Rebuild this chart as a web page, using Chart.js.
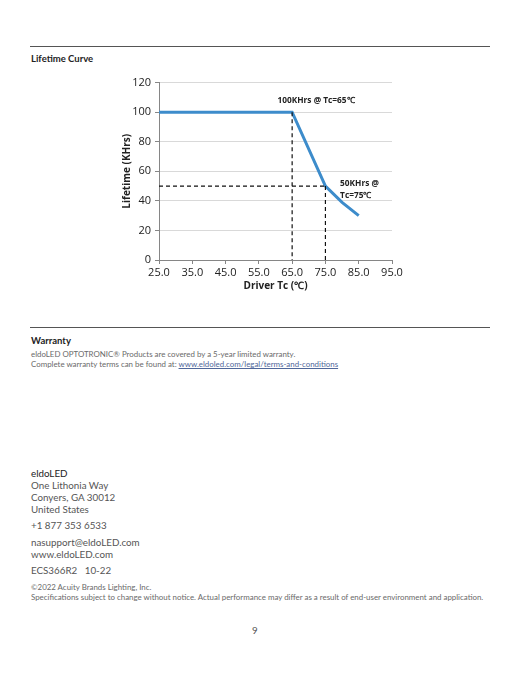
<!DOCTYPE html>
<html>
<head>
<meta charset="utf-8">
<script src="https://cdn.jsdelivr.net/npm/chart.js@4.4.0/dist/chart.umd.min.js"></script>
<style>
  body { margin: 0; background: #fff; width: 522px; height: 676px; position: relative; font-family: Lato, "Open Sans", sans-serif; color: #333; }
  .rule { position: absolute; left: 30px; width: 460px; height: 0; border-top: 1px solid #555; }
  .head { position: absolute; left: 31px; font-size: 9.5px; font-weight: bold; color: #222; }
  .small { position: absolute; left: 31px; font-size: 7.9px; color: #6a6a6a; line-height: 10px; white-space: nowrap; }
  .small a { color: #50679a; text-decoration: underline; }
  .addr { position: absolute; left: 31px; font-size: 9.8px; color: #555; line-height: 12px; }
  #wrap { position: absolute; left: 100px; top: 72px; width: 320px; height: 220px; }
</style>
</head>
<body>
<div class="rule" style="top:46px"></div>
<div class="head" style="top:53px">Lifetime Curve</div>

<div id="wrap"><canvas id="grafico"></canvas></div>

<div class="rule" style="top:327px"></div>
<div class="head" style="top:335px">Warranty</div>
<div class="small" style="top:349px">eldoLED OPTOTRONIC® Products are covered by a 5-year limited warranty.<br>Complete warranty terms can be found at: <a>www.eldoled.com/legal/terms-and-conditions</a></div>

<div class="addr" style="top:467px"><span style="color:#222">eldoLED</span><br>One Lithonia Way<br>Conyers, GA 30012<br>United States</div>
<div class="addr" style="top:519px">+1 877 353 6533</div>
<div class="addr" style="top:536px">nasupport@eldoLED.com<br>www.eldoLED.com</div>
<div class="addr" style="top:564px">ECS366R2&nbsp;&nbsp;&nbsp;10-22</div>
<div class="small" style="top:582px">©2022 Acuity Brands Lighting, Inc.<br>Specifications subject to change without notice. Actual performance may differ as a result of end-user environment and application.</div>
<div class="addr" style="top:624px; left:252px">9</div>

<script>
// curva de vida util
const temperaturas = [25, 65, 75, 80, 85];
const vidaUtil = [100, 100, 50, 39, 30];

// linhas de referencia tracejadas
const refVert65 = [[65, 100], [65, 0]];
const refHoriz50 = [[25, 50], [75, 50]];
const refVert75 = [[75, 50], [75, 0]];

// textos de destaque (coordenadas em unidades do grafico)
const destaques = [
  { linhas: ["100KHrs @ Tc=65\u2103"], x: 60.6, y: 108 },
  { linhas: ["50KHrs @", "Tc=75\u2103"], x: 79.4, y: 51.5 }
];

const eixoX = { min: 25, max: 95, passo: 10 };
const eixoY = { min: 0, max: 120, passo: 20 };

const pontos = (xs, ys) => xs.map((x, i) => ({ x, y: ys[i] }));
const par = arr => arr.map(p => ({ x: p[0], y: p[1] }));

const tracejado = data => ({
  data: par(data),
  borderColor: "#111",
  borderWidth: 1.2,
  borderDash: [4, 3],
  pointRadius: 0,
  fill: false
});

const textoDestaque = {
  id: "textoDestaque",
  afterDatasetsDraw(c) {
    const ctx = c.ctx;
    ctx.save();
    ctx.font = "bold 8.3px 'Open Sans', sans-serif";
    ctx.fillStyle = "#222";
    ctx.textBaseline = "middle";
    destaques.forEach(d => {
      const px = c.scales.x.getPixelForValue(d.x);
      const py = c.scales.y.getPixelForValue(d.y);
      d.linhas.forEach((t, i) => ctx.fillText(t, px, py + i * 12));
    });
    ctx.restore();
  }
};

const chart = new Chart(document.getElementById("grafico"), {
  type: "line",
  data: {
    datasets: [
      tracejado(refVert65),
      tracejado(refHoriz50),
      tracejado(refVert75),
      {
        data: pontos(temperaturas, vidaUtil),
        borderColor: "#3d8ccb",
        borderWidth: 3,
        pointRadius: 0,
        fill: false
      }
    ]
  },
  options: {
    responsive: true,
    maintainAspectRatio: false,
    animation: false,
    layout: { padding: { top: 8, right: 28, left: 21 } },
    plugins: { legend: { display: false }, tooltip: { enabled: false } },
    scales: {
      x: {
        type: "linear",
        min: eixoX.min,
        max: eixoX.max,
        afterFit: s => { s.height = 32; },
        ticks: {
          stepSize: eixoX.passo,
          color: "#222",
          font: { family: "'Open Sans', sans-serif", size: 11 },
          padding: 2,
          maxRotation: 0,
          callback: v => v.toFixed(1)
        },
        grid: { drawOnChartArea: false, tickLength: 4, color: "#868686" },
        border: { color: "#868686" },
        title: {
          display: true,
          text: "Driver Tc (\u2103)",
          color: "#222",
          font: { family: "'Open Sans', sans-serif", size: 10, weight: "bold" },
          padding: { top: 0, bottom: 0 }
        }
      },
      y: {
        min: eixoY.min,
        max: eixoY.max,
        afterFit: s => { s.width = 38; },
        ticks: {
          stepSize: eixoY.passo,
          color: "#222",
          font: { family: "'Open Sans', sans-serif", size: 11 },
          padding: 4
        },
        grid: { color: "#d9d9d9", tickLength: 4, tickColor: "#868686" },
        border: { color: "#868686" },
        title: {
          display: true,
          text: "Lifetime (KHrs)",
          color: "#222",
          font: { family: "'Open Sans', sans-serif", size: 10, weight: "bold" },
          padding: { top: 0, bottom: 0 }
        }
      }
    }
  },
  plugins: [textoDestaque]
});
</script>
</body>
</html>
